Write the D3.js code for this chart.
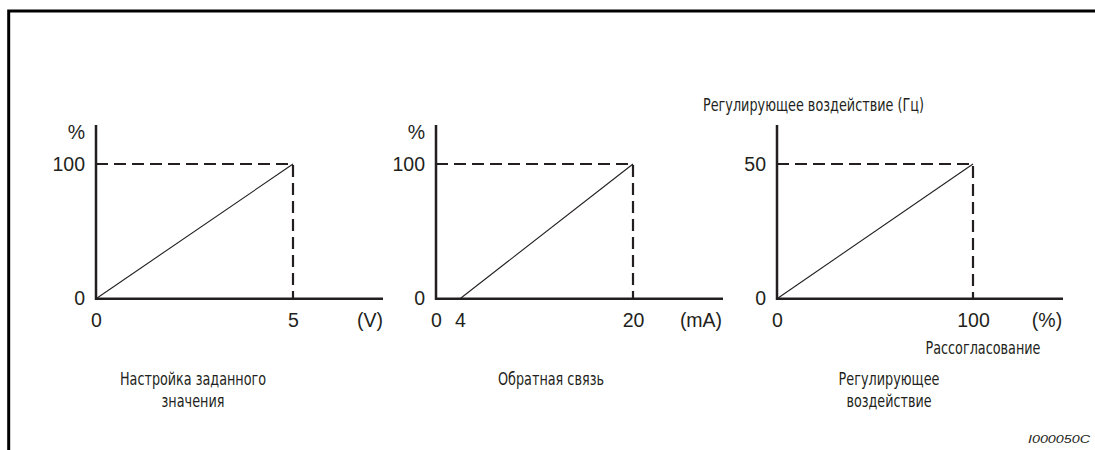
<!DOCTYPE html>
<html><head><meta charset="utf-8">
<script src="https://cdn.jsdelivr.net/npm/d3@7"></script>
<style>
body{margin:0;background:#fff;}
svg{display:block;}
.num{font-family:"Liberation Sans",Arial,sans-serif;font-size:19.5px;fill:#231f20;}
.cap{font-family:"DejaVu Sans Condensed","DejaVu Sans","Liberation Sans",sans-serif;font-stretch:condensed;font-size:18.5px;fill:#231f20;}
.code{font-family:"Liberation Sans",Arial,sans-serif;font-style:italic;font-size:11.5px;fill:#231f20;}
</style></head>
<body><svg id="c" width="1095" height="450"></svg>
<script>
// ---- data ----
const xDomain1 = [0, 5];
const yDomain1 = [0, 100];
const line1 = [[0, 0], [5, 100]];
const xTicks1 = [0, 5];
const yTicks1 = [0, 100];

const xDomain2 = [0, 4, 20];
const yDomain2 = [0, 100];
const line2 = [[4, 0], [20, 100]];
const xTicks2 = [0, 4, 20];
const yTicks2 = [0, 100];

const xDomain3 = [0, 100];
const yDomain3 = [0, 50];
const line3 = [[0, 0], [100, 50]];
const xTicks3 = [0, 100];
const yTicks3 = [0, 50];

const xUnits = ["(V)", "(mA)", "(%)"];
const yUnits = ["%", "%", ""];
const captions = [["Настройка заданного", "значения"], ["Обратная связь"], ["Регулирующее", "воздействие"]];
const topTitle = "Регулирующее воздействие (Гц)";
const xName3 = "Рассогласование";
const figCode = "I000050C";

// ---- layout ----
const svg = d3.select("#c");
const ink = "#231f20";
svg.append("path").attr("d", "M8.7,450 V11 H1095").attr("fill", "none").attr("stroke", "#000").attr("stroke-width", 3);

const panels = [
  {xd: xDomain1, yd: yDomain1, line: line1, xt: xTicks1, yt: yTicks1, xr: [96, 293], axisEnd: 383, unitX: 370, capX: 193, capW: [146, 63]},
  {xd: xDomain2, yd: yDomain2, line: line2, xt: xTicks2, yt: yTicks2, xr: [436, 460, 633], axisEnd: 723, unitX: 701, capX: 551, capW: [106]},
  {xd: xDomain3, yd: yDomain3, line: line3, xt: xTicks3, yt: yTicks3, xr: [777, 973], axisEnd: 1063, unitX: 1047, capX: 889, capW: [101, 85]}
];
const yRange = [298.7, 164], axisTop = 125;

panels.forEach((p, i) => {
  const x = d3.scaleLinear().domain(p.xd).range(p.xr);
  const y = d3.scaleLinear().domain(p.yd).range(yRange);
  const g = svg.append("g");
  const x0 = x(p.xd[0]);
  const yMax = y(p.yd[1]);
  const lastLine = p.line[p.line.length - 1];
  // dashed guide lines
  g.append("path")
    .attr("d", `M${x0},${yMax} H${x(lastLine[0])} V${y(0)}`)
    .attr("fill", "none").attr("stroke", ink).attr("stroke-width", 2.2).attr("stroke-dasharray", "12,6");
  // axes
  g.append("path").attr("d", `M${x0},${axisTop} V${y(0)} H${p.axisEnd}`)
    .attr("fill", "none").attr("stroke", ink).attr("stroke-width", 2.5);
  // characteristic line
  g.append("path").datum(p.line)
    .attr("d", d3.line().x(d => x(d[0])).y(d => y(d[1])))
    .attr("fill", "none").attr("stroke", ink).attr("stroke-width", 1.1);
  // x ticks
  const ax = g.append("g").attr("transform", `translate(0,${y(0)})`)
    .call(d3.axisBottom(x).tickValues(p.xt).tickSize(0).tickPadding(14).tickFormat(d3.format("d")));
  ax.select(".domain").remove();
  ax.selectAll("text").attr("class", "num").attr("font-family", null).attr("font-size", null).attr("fill", null);
  // y ticks
  const ay = g.append("g").attr("transform", `translate(${x0},0)`)
    .call(d3.axisLeft(y).tickValues(p.yt).tickSize(0).tickPadding(11).tickFormat(d3.format("d")));
  ay.select(".domain").remove();
  ay.selectAll("text").attr("class", "num").attr("font-family", null).attr("font-size", null).attr("fill", null);
  // units
  g.append("text").attr("class", "num").attr("x", p.unitX).attr("y", y(0) + 14).attr("dy", "0.71em")
    .attr("text-anchor", "middle").text(xUnits[i]);
  if (yUnits[i]) g.append("text").attr("class", "num").attr("x", x0 - 11).attr("y", 139)
    .attr("text-anchor", "end").text(yUnits[i]);
  // caption
  captions[i].forEach((t, k) => {
    g.append("text").attr("class", "cap").attr("x", p.capX).attr("y", 385 + k * 22)
      .attr("text-anchor", "middle").attr("textLength", p.capW[k]).attr("lengthAdjust", "spacingAndGlyphs").text(t);
  });
});

svg.append("text").attr("class", "cap").attr("x", 703).attr("y", 111)
  .attr("textLength", 221).attr("lengthAdjust", "spacingAndGlyphs").text(topTitle);
svg.append("text").attr("class", "cap").attr("x", 983).attr("y", 354).attr("text-anchor", "middle")
  .attr("textLength", 115).attr("lengthAdjust", "spacingAndGlyphs").text(xName3);
svg.append("text").attr("class", "code").attr("x", 1090).attr("y", 443).attr("text-anchor", "end")
  .attr("textLength", 62).attr("lengthAdjust", "spacingAndGlyphs").text(figCode);
</script></body></html>
